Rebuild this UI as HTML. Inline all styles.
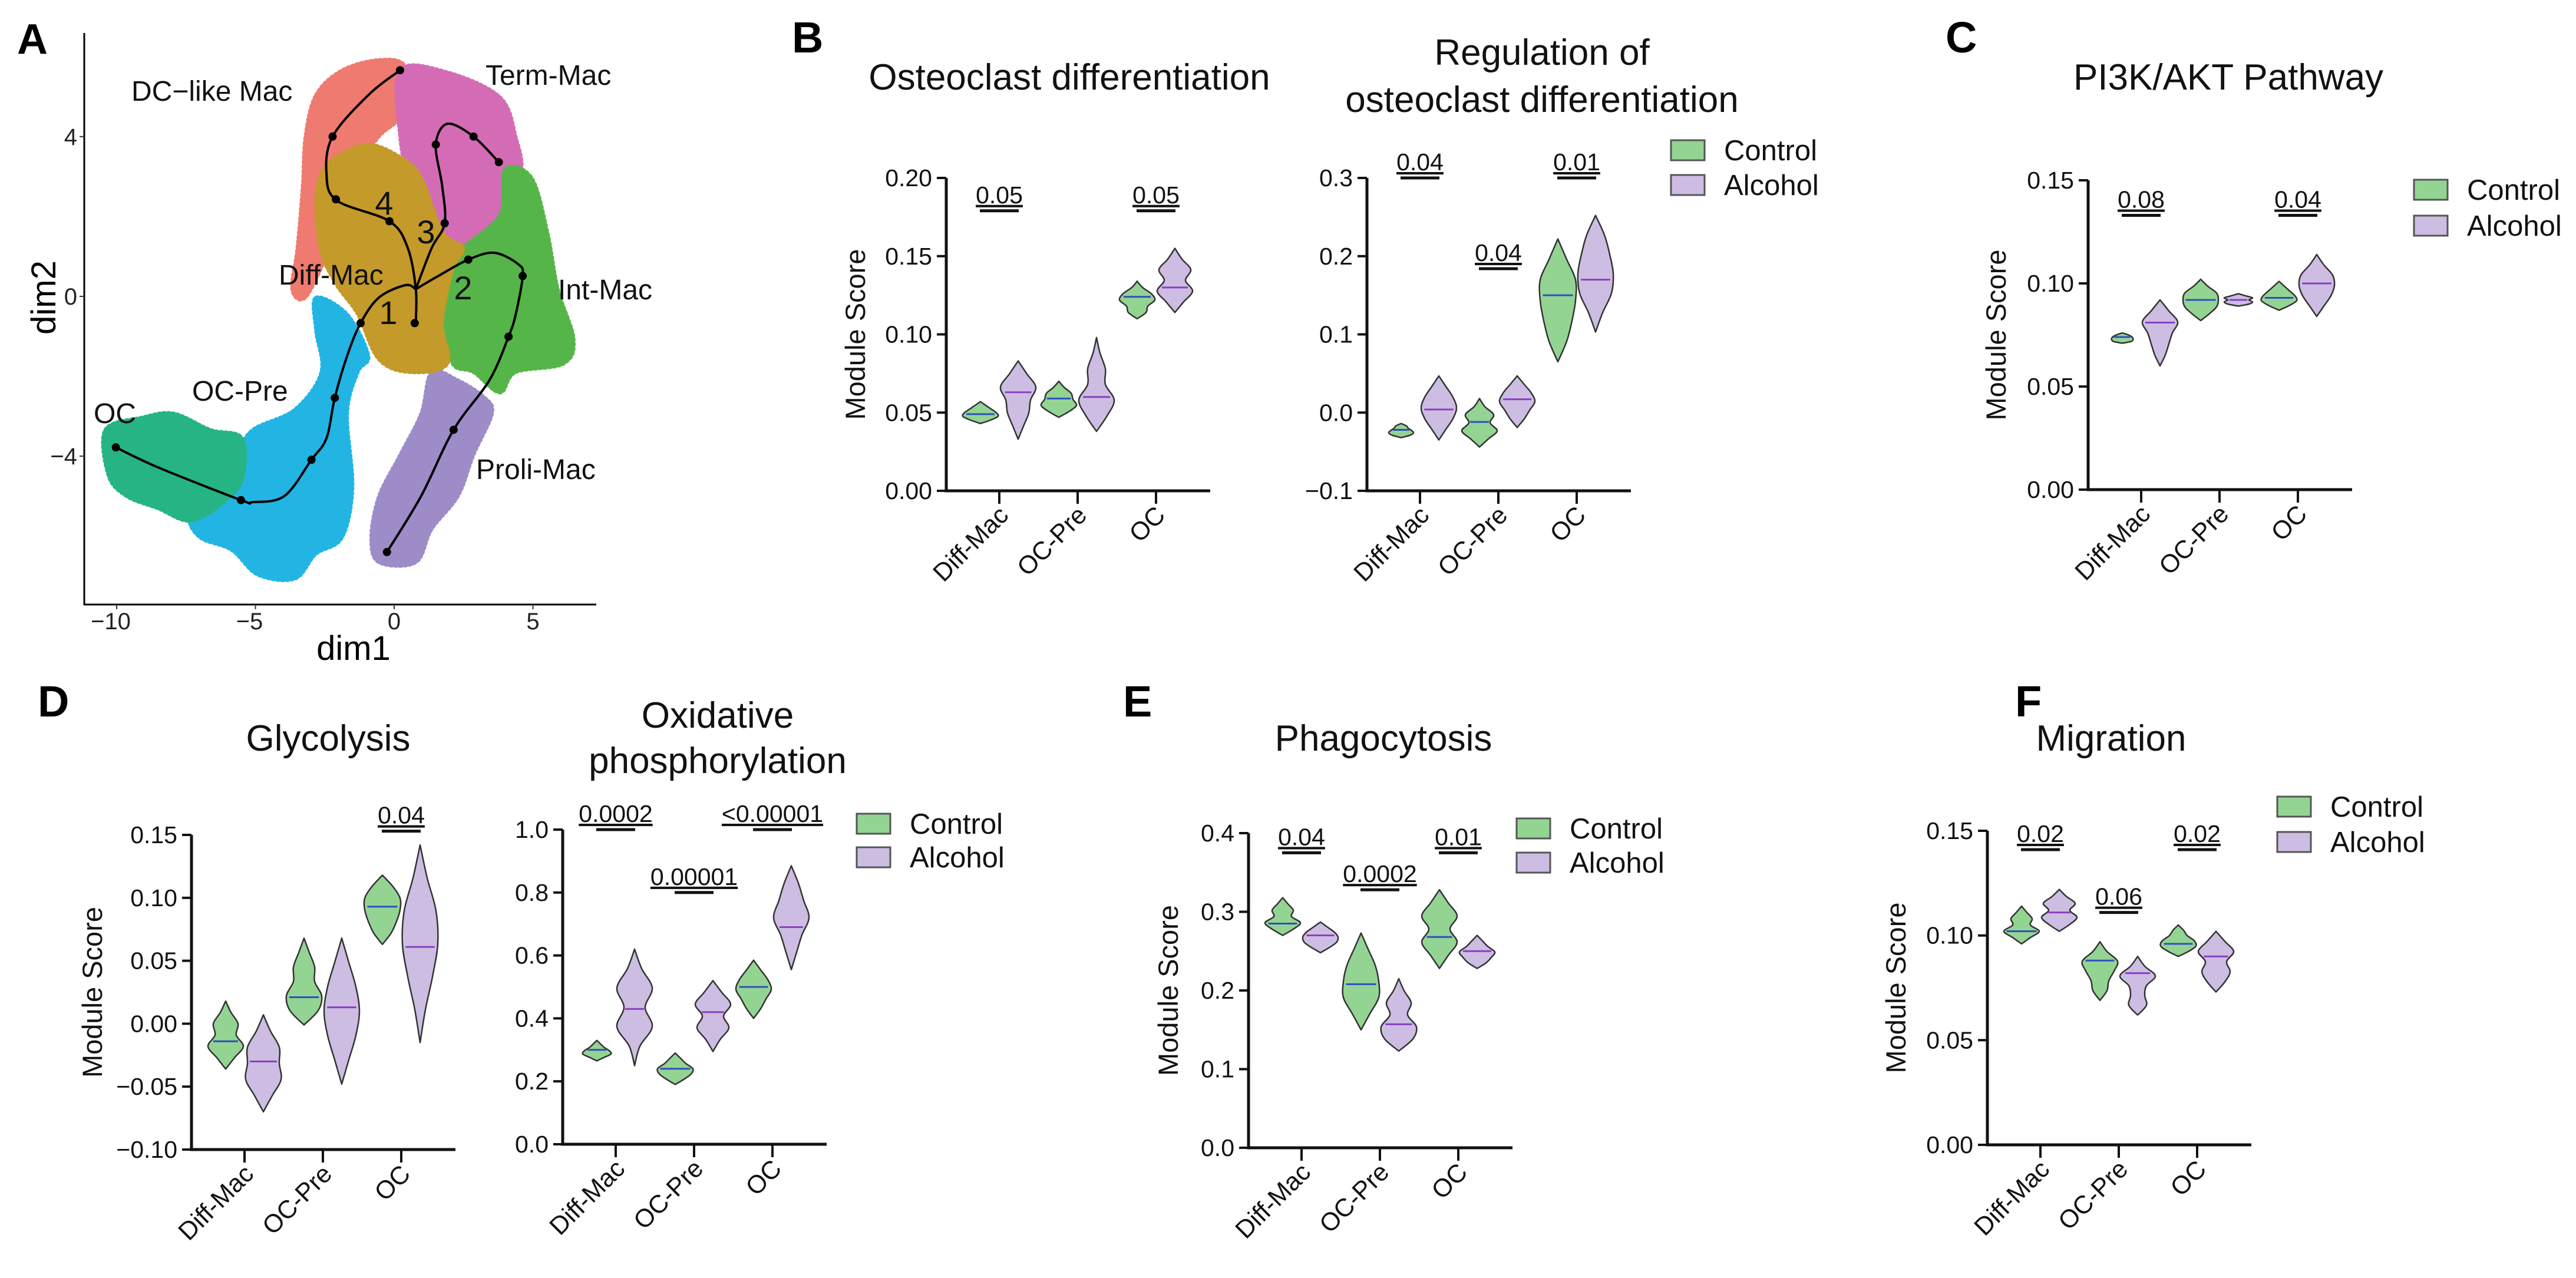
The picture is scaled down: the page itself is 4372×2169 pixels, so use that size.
<!DOCTYPE html>
<html><head><meta charset="utf-8"><title>Module score figure</title>
<style>
html,body{margin:0;padding:0;background:#fff;}
svg{display:block;font-family:"Liberation Sans",Arial,sans-serif;}
</style></head>
<body>
<svg id="fig" width="4372" height="2169" viewBox="0 0 4372 2169" xmlns="http://www.w3.org/2000/svg">
<g id="panelA"></g>
<g id="violins"></g>
</svg>
<script>
// ---------------- Panel A data (dim units) ----------------
const umapXTicks = [-10, -5, 0, 5];
const umapYTicks = [-4, 0, 4];
const clusterNames = ["OC-Pre","OC","Proli-Mac","DC-like","Term-Mac","Int-Mac","Diff-Mac"];
const clusterColors = ["#22B5E4","#27B485","#9E8CC9","#EF7A70","#D46CB5","#55B548","#C49A2A"];
const clusterOCPre = [[-2.82,-0.03],[-1.69,-0.45],[-0.93,-1.48],[-1.31,-1.9],[-1.69,-2.93],[-1.5,-4.79],[-1.88,-6.04],[-2.82,-6.45],[-3.58,-7.07],[-4.91,-6.97],[-5.86,-6.35],[-6.99,-6.04],[-7.37,-5.52],[-6.62,-5.0],[-5.67,-3.97],[-5.1,-3.34],[-3.58,-2.83],[-2.63,-1.9],[-2.82,-0.86]];
const clusterOC = [[-10.41,-3.34],[-9.08,-3.03],[-7.94,-2.93],[-6.62,-3.34],[-5.48,-3.55],[-5.48,-4.59],[-6.24,-5.21],[-7.37,-5.62],[-8.51,-5.31],[-9.65,-5.0],[-10.3,-4.48]];
const clusterProli = [[1.35,-1.9],[2.3,-2.1],[3.24,-2.52],[3.53,-2.93],[2.86,-3.97],[2.3,-5.0],[1.35,-5.83],[0.78,-6.66],[-0.55,-6.66],[-0.83,-6.04],[-0.55,-5.0],[0.21,-3.97],[0.97,-2.93]];
const clusterDC = [[-2.82,5.04],[-1.88,5.66],[-0.55,5.92],[0.4,5.76],[0.59,4.73],[-0.55,4.0],[-1.12,3.28],[-0.93,2.45],[-2.07,1.62],[-2.44,1.0],[-3.2,-0.03],[-3.68,0.18],[-3.49,1.21],[-3.3,2.76],[-3.2,4.0]];
const clusterTerm = [[0.21,5.66],[1.92,5.61],[3.81,4.99],[4.38,4.0],[4.57,3.07],[3.81,2.04],[2.48,1.21],[1.73,1.0],[1.35,1.62],[0.59,2.76],[0.21,4.0]];
const clusterInt = [[4.0,3.18],[4.95,2.97],[5.52,1.62],[5.9,0.18],[6.47,-1.07],[6.09,-1.69],[4.38,-1.9],[3.81,-2.41],[2.86,-1.9],[2.11,-1.69],[1.82,-0.65],[2.11,0.69],[2.48,1.21],[3.81,2.04]];
const clusterDiff = [[-2.07,3.49],[-0.93,3.8],[0.21,3.49],[0.97,2.97],[1.73,1.62],[2.48,1.21],[2.11,0.69],[1.73,-0.65],[1.92,-1.69],[0.59,-1.9],[-0.55,-1.58],[-1.31,-0.45],[-2.07,0.28],[-2.63,1.11],[-2.82,2.25],[-2.63,3.07]];
const trajDC = [[0.78,-0.65],[0.78,0.18],[0.49,1.21],[-0.17,1.88],[-2.07,2.4],[-2.44,3.07],[-2.22,4.0],[-0.93,5.04],[0.21,5.66]];
const trajTerm = [[0.78,0.18],[1.35,1.21],[1.82,1.83],[1.73,2.76],[1.5,3.8],[1.92,4.32],[2.86,4.0],[3.77,3.36]];
const trajProli = [[0.78,0.18],[1.54,0.49],[2.67,0.92],[3.62,1.09],[4.48,0.8],[4.63,0.51],[4.38,-0.45],[4.12,-1.01],[3.43,-2.1],[2.14,-3.34],[0.97,-5.0],[-0.26,-6.4]];
const trajOC = [[0.78,0.18],[0.4,0.28],[-0.55,-0.03],[-1.21,-0.67],[-1.69,-1.48],[-2.14,-2.54],[-2.44,-3.55],[-2.98,-4.09],[-3.96,-5.0],[-5.1,-5.15],[-5.52,-5.1],[-8.51,-4.28],[-10.03,-3.78]];
const trajNodes = [[0.21,5.66],[-2.22,4.0],[-2.1,2.43],[-0.17,1.88],[1.82,1.83],[1.5,3.8],[2.86,4.0],[3.77,3.36],[0.74,-0.67],[2.67,0.92],[4.63,0.51],[4.12,-1.01],[2.14,-3.34],[-0.26,-6.4],[-1.21,-0.67],[-2.14,-2.54],[-2.98,-4.09],[-5.52,-5.1],[-10.03,-3.78]];

// ---------------- Violin data ----------------
const categories = ["Diff-Mac","OC-Pre","OC"];
// [lo, median, hi] per category
const b1Ctrl = [[0.043,0.049,0.057],[0.047,0.059,0.070],[0.110,0.124,0.134]];
const b1Alc  = [[0.033,0.063,0.083],[0.038,0.060,0.098],[0.114,0.130,0.155]];
const b1CtrlShape = [[0.6,1,0.9,0.6,0.3],[0.6,1,0.8,0.7,0.3],[0.5,0.6,1,0.8,0.3]];
const b1AlcShape  = [[0.3,0.6,0.7,1,0.5],[0.6,1,0.5,0.5,0.2],[0.5,1,0.6,0.9,0.4]];
const b1TickLabels = ["0.00","0.05","0.10","0.15","0.20"];
const b1PCats = [0,2]; const b1PLevels = [0.179,0.179]; const b1PText = ["0.05","0.05"];

const b2Ctrl = [[-0.032,-0.022,-0.014],[-0.044,-0.012,0.018],[0.065,0.150,0.222]];
const b2Alc  = [[-0.035,0.004,0.047],[-0.019,0.017,0.047],[0.103,0.170,0.252]];
const b2CtrlShape = [[0.5,0.7,0.6,0.4,0.3],[0.5,1,0.6,0.8,0.3],[0.5,0.8,1,1,0.5]];
const b2AlcShape  = [[0.4,0.8,1,0.8,0.4],[0.4,0.7,1,0.8,0.4],[0.4,0.9,1,0.8,0.5]];
const b2TickLabels = ["\u22120.1","0.0","0.1","0.2","0.3"];
const b2PCats = [0,1,2]; const b2PLevels = [0.30,0.184,0.30]; const b2PText = ["0.04","0.04","0.01"];

const cCtrl = [[0.071,0.074,0.076],[0.082,0.092,0.102],[0.087,0.093,0.101]];
const cAlc  = [[0.060,0.081,0.092],[0.089,0.092,0.095],[0.084,0.100,0.114]];
const cCtrlShape = [[0.5,0.6,0.6,0.5,0.3],[0.5,0.9,1,0.9,0.4],[0.6,1,0.9,0.6,0.3]];
const cAlcShape  = [[0.3,0.5,0.7,1,0.5],[0.6,0.8,0.6,0.8,0.4],[0.4,0.8,1,0.9,0.4]];
const cTickLabels = ["0.00","0.05","0.10","0.15"];
const cPCats = [0,2]; const cPLevels = [0.133,0.133]; const cPText = ["0.08","0.04"];

const d1Ctrl = [[-0.036,-0.014,0.018],[-0.001,0.021,0.068],[0.063,0.093,0.118]];
const d1Alc  = [[-0.070,-0.030,0.007],[-0.048,0.013,0.068],[-0.015,0.061,0.142]];
const d1CtrlShape = [[0.5,1,0.6,0.7,0.3],[0.8,1,0.6,0.6,0.3],[0.5,0.8,1,1,0.6]];
const d1AlcShape  = [[0.5,1,0.9,0.9,0.4],[0.4,0.8,1,0.8,0.4],[0.3,0.7,1,0.9,0.4]];
const d1TickLabels = ["\u22120.10","\u22120.05","0.00","0.05","0.10","0.15"];
const d1PCats = [2]; const d1PLevels = [0.153]; const d1PText = ["0.04"];

const d2Ctrl = [[0.265,0.30,0.33],[0.19,0.24,0.29],[0.40,0.50,0.585]];
const d2Alc  = [[0.25,0.43,0.62],[0.295,0.42,0.52],[0.555,0.69,0.885]];
const d2CtrlShape = [[0.4,0.8,0.7,0.4,0.2],[0.5,0.9,1,0.6,0.3],[0.4,0.7,1,0.8,0.4]];
const d2AlcShape  = [[0.3,1,0.6,1,0.4],[0.4,0.9,0.6,1,0.5],[0.3,0.6,1,0.7,0.4]];
const d2TickLabels = ["0.0","0.2","0.4","0.6","0.8","1.0"];
const d2PCats = [0,1,2]; const d2PLevels = [1.0,0.80,1.0]; const d2PText = ["0.0002","0.00001","<0.00001"];

const eCtrl = [[0.27,0.285,0.318],[0.15,0.208,0.273],[0.228,0.268,0.328]];
const eAlc  = [[0.248,0.27,0.287],[0.123,0.157,0.215],[0.228,0.25,0.27]];
const eCtrlShape = [[0.6,1,0.5,0.6,0.3],[0.5,1,1,0.8,0.4],[0.5,1,0.6,1,0.5]];
const eAlcShape  = [[0.5,0.9,1,0.8,0.4],[0.8,1,0.5,0.7,0.3],[0.5,0.8,1,0.6,0.3]];
const eTickLabels = ["0.0","0.1","0.2","0.3","0.4"];
const ePCats = [0,1,2]; const ePLevels = [0.375,0.328,0.375]; const ePText = ["0.04","0.0002","0.01"];

const fCtrl = [[0.096,0.102,0.114],[0.069,0.088,0.097],[0.090,0.096,0.105]];
const fAlc  = [[0.102,0.111,0.122],[0.062,0.082,0.090],[0.073,0.090,0.102]];
const fCtrlShape = [[0.5,1,0.5,0.6,0.3],[0.4,0.5,0.8,1,0.4],[0.6,1,0.9,0.5,0.3]];
const fAlcShape  = [[0.6,1,0.6,0.9,0.4],[0.5,0.4,0.5,1,0.4],[0.5,0.8,0.6,1,0.5]];
const fTickLabels = ["0.00","0.05","0.10","0.15"];
const fPCats = [0,1,2]; const fPLevels = [0.141,0.111,0.141]; const fPText = ["0.02","0.06","0.02"];

// ---------------- helpers ----------------
const NS = "http://www.w3.org/2000/svg";
function mk(tag, attrs, parent){ const e=document.createElementNS(NS,tag); for(const k in attrs) e.setAttribute(k,attrs[k]); if(parent) parent.appendChild(e); return e; }
function txt(str, attrs, parent){ const t=mk("text",attrs,parent); t.textContent=str; return t; }
function crPath(pts, closed){
  const n=pts.length; if(n<2) return "";
  let d="M"+pts[0][0].toFixed(1)+","+pts[0][1].toFixed(1);
  const g=i=> closed ? pts[(i+n)%n] : pts[Math.max(0,Math.min(n-1,i))];
  const segs = closed ? n : n-1;
  for(let i=0;i<segs;i++){
    const p0=g(i-1),p1=g(i),p2=g(i+1),p3=g(i+2);
    const c1=[p1[0]+(p2[0]-p0[0])/6, p1[1]+(p2[1]-p0[1])/6];
    const c2=[p2[0]-(p3[0]-p1[0])/6, p2[1]-(p3[1]-p1[1])/6];
    d+="C"+c1[0].toFixed(1)+","+c1[1].toFixed(1)+" "+c2[0].toFixed(1)+","+c2[1].toFixed(1)+" "+p2[0].toFixed(1)+","+p2[1].toFixed(1);
  }
  return d+(closed?"Z":"");
}

// ---------------- Panel A ----------------
(function(){
  const g=document.getElementById("panelA");
  const ax={left:143,bottom:1026,top:56,right:1012};
  const sx=v=>669+47.1*v, sy=v=>503-67.8*v;
  const letter=txt("A",{x:29,y:91,"font-size":72,"font-weight":"bold"},g);
  
  
  const clusters=[clusterOCPre,clusterOC,clusterProli,clusterDC,clusterTerm,clusterInt,clusterDiff];
  clusters.forEach((c,i)=>{
    const p=mk("path",{d:crPath(c.map(q=>[sx(q[0]),sy(q[1])]),true),fill:clusterColors[i],stroke:clusterColors[i],"stroke-width":6,"stroke-dasharray":"3 5","stroke-linecap":"round"},g);
    
    
  });
  [trajDC,trajTerm,trajProli,trajOC].forEach((t,i)=>{
    const p=mk("path",{d:crPath(t.map(q=>[sx(q[0]),sy(q[1])]),false),fill:"none",stroke:"#000","stroke-width":4},g);
    
    
  });
  trajNodes.forEach(q=>{
    const c=mk("circle",{cx:sx(q[0]),cy:sy(q[1]),r:7,fill:"#000"},g);
    
    
  });
  const axes=mk("path",{d:`M${ax.left},${ax.top}V${ax.bottom}H${ax.right}`,fill:"none",stroke:"#000","stroke-width":3},g);
  
  
  umapXTicks.forEach(v=>{
    mk("line",{x1:sx(v),x2:sx(v),y1:ax.bottom,y2:ax.bottom+8,stroke:"#333","stroke-width":2},g);
    const t=txt(v<0?"\u2212"+(-v):String(v),{x:sx(v)-(v<0?10:0),y:1068,"font-size":40,"text-anchor":"middle",fill:"#222"},g);
    
    
  });
  umapYTicks.forEach(v=>{
    mk("line",{x1:ax.left-8,x2:ax.left,y1:sy(v),y2:sy(v),stroke:"#333","stroke-width":2},g);
    const t=txt(v<0?"\u2212"+(-v):String(v),{x:ax.left-12,y:sy(v)+14,"font-size":40,"text-anchor":"end",fill:"#222"},g);
    
    
  });
  const xt=txt("dim1",{x:600,y:1120,"font-size":58,"text-anchor":"middle"},g);
  
  
  const yt=txt("dim2",{x:0,y:0,"font-size":58,"text-anchor":"middle",transform:"translate(94,505) rotate(-90)"},g);
  
  
  const labels=[["DC\u2212like Mac",223,171],["Term-Mac",824,144],["Diff-Mac",473,483],["Int-Mac",947,508],["OC-Pre",326,680],["OC",159,718],["Proli-Mac",808,813]];
  labels.forEach(l=>{
    const t=txt(l[0],{x:l[1],y:l[2],"font-size":48,fill:"#111"},g);
    
    
  });
  [["4",652,344],["3",723,393],["2",786,488],["1",659,530]].forEach(l=>{
    const t=txt(l[0],{x:l[1],y:l[2]+20,"font-size":56,"text-anchor":"middle",fill:"#111"},g);
    
    
  });
})();

// ---------------- Violin panels ----------------
const panels = [
  {id:"b1",ctrl:b1Ctrl,alc:b1Alc,cs:b1CtrlShape,as:b1AlcShape,ticks:b1TickLabels,pc:b1PCats,pl:b1PLevels,pt:b1PText,
   ax:1606,top:302,bot:833,ytitle:1452,title:["Osteoclast differentiation"],tx:1815,ty:[152],letter:["B",1344,89],legend:null},
  {id:"b2",ctrl:b2Ctrl,alc:b2Alc,cs:b2CtrlShape,as:b2AlcShape,ticks:b2TickLabels,pc:b2PCats,pl:b2PLevels,pt:b2PText,
   ax:2320,top:302,bot:833,ytitle:null,title:["Regulation of","osteoclast differentiation"],tx:2617,ty:[110,190],letter:null,legend:[2836,255,314]},
  {id:"c",ctrl:cCtrl,alc:cAlc,cs:cCtrlShape,as:cAlcShape,ticks:cTickLabels,pc:cPCats,pl:cPLevels,pt:cPText,
   ax:3544,top:306,bot:831,ytitle:3388,title:["PI3K/AKT Pathway"],tx:3782,ty:[152],letter:["C",3302,89],legend:[4097,322,383]},
  {id:"d1",ctrl:d1Ctrl,alc:d1Alc,cs:d1CtrlShape,as:d1AlcShape,ticks:d1TickLabels,pc:d1PCats,pl:d1PLevels,pt:d1PText,
   ax:325,top:1417,bot:1951,ytitle:157,title:["Glycolysis"],tx:557,ty:[1274],letter:["D",64,1216],legend:null},
  {id:"d2",ctrl:d2Ctrl,alc:d2Alc,cs:d2CtrlShape,as:d2AlcShape,ticks:d2TickLabels,pc:d2PCats,pl:d2PLevels,pt:d2PText,
   ax:955,top:1408,bot:1942,ytitle:null,title:["Oxidative","phosphorylation"],tx:1218,ty:[1235,1312],letter:null,legend:[1454,1398,1455]},
  {id:"e",ctrl:eCtrl,alc:eAlc,cs:eCtrlShape,as:eAlcShape,ticks:eTickLabels,pc:ePCats,pl:ePLevels,pt:ePText,
   ax:2119,top:1414,bot:1948,ytitle:1983,title:["Phagocytosis"],tx:2348,ty:[1274],letter:["E",1906,1216],legend:[2574,1406,1464]},
  {id:"f",ctrl:fCtrl,alc:fAlc,cs:fCtrlShape,as:fAlcShape,ticks:fTickLabels,pc:fPCats,pl:fPLevels,pt:fPText,
   ax:3373,top:1410,bot:1943,ytitle:3218,title:["Migration"],tx:3583,ty:[1274],letter:["F",3420,1216],legend:[3865,1369,1429]}
];

function drawViolin(g, cx, stats, shape, yS, fill, medColor, name){
  const lo=stats[0], med=stats[1], hi=stats[2], n=shape.length, W=30;
  const vals=[lo]; const ws=[0];
  for(let k=0;k<n;k++){ vals.push(lo+(hi-lo)*(k+1)/(n+1)); ws.push(shape[k]*W); }
  vals.push(hi); ws.push(0);
  const right=vals.map((v,i)=>[cx+ws[i],yS(v)]);
  const left=vals.map((v,i)=>[cx-ws[i],yS(v)]).reverse();
  const d=crPath(right,false)+crPath(left,false).replace(/^M[^C]*/,"L"+left[0][0].toFixed(1)+","+left[0][1].toFixed(1))+"Z";
  const p=mk("path",{d:d,fill:fill,stroke:"#333","stroke-width":2.5,"stroke-linejoin":"round"},g);
  
  
  let wm=0; for(let i=0;i<vals.length-1;i++){ if(med>=vals[i]&&med<=vals[i+1]){ const t=(med-vals[i])/(vals[i+1]-vals[i]); wm=ws[i]+(ws[i+1]-ws[i])*t; } }
  wm*=0.85;
  const m=mk("line",{x1:cx-wm,x2:cx+wm,y1:yS(med),y2:yS(med),stroke:medColor,"stroke-width":3},g);
  
  
}

const root=document.getElementById("violins");
panels.forEach(P=>{
  const g=mk("g",{},root);
  
  
  const tickVals=P.ticks.map(s=>parseFloat(s.replace("\u2212","-")));
  const vmin=tickVals[0], vmax=tickVals[tickVals.length-1];
  const yS=v=>P.bot-(v-vmin)/(vmax-vmin)*(P.bot-P.top);
  const xC=i=>P.ax+90+133*i;
  const xEnd=P.ax+448;
  if(P.letter){
    const L=txt(P.letter[0],{x:P.letter[1],y:P.letter[2],"font-size":74,"font-weight":"bold"},g);
    
    
  }
  P.title.forEach((s,i)=>{
    const t=txt(s,{x:P.tx,y:P.ty[i],"font-size":62,"text-anchor":"middle",fill:"#111"},g);
    
    
  });
  const a=mk("path",{d:`M${P.ax},${P.top}V${P.bot}H${xEnd}`,fill:"none",stroke:"#111","stroke-width":5},g);
  
  
  P.ticks.forEach((s,i)=>{
    const y=yS(tickVals[i]);
    mk("line",{x1:P.ax-16,x2:P.ax,y1:y,y2:y,stroke:"#111","stroke-width":4},g);
    const t=txt(s,{x:P.ax-24,y:y+14,"font-size":41,"text-anchor":"end",fill:"#111"},g);
    
    
  });
  categories.forEach((c,i)=>{
    const x=xC(i);
    mk("line",{x1:x,x2:x,y1:P.bot,y2:P.bot+22,stroke:"#111","stroke-width":4},g);
    const t=txt(c,{x:0,y:0,"font-size":43,"text-anchor":"end",fill:"#111",transform:`translate(${x+18},${P.bot+44}) rotate(-45)`},g);
    
    
  });
  if(P.ytitle!==null){
    const t=txt("Module Score",{x:0,y:0,"font-size":47,"text-anchor":"middle",fill:"#111",transform:`translate(${P.ytitle+16},${(P.top+P.bot)/2}) rotate(-90)`},g);
    
    
  }
  categories.forEach((c,i)=>{
    drawViolin(g,xC(i)-32,P.ctrl[i],P.cs[i],yS,"#93D493","#2F4FC0","violin-control-"+c.toLowerCase());
    drawViolin(g,xC(i)+32,P.alc[i],P.as[i],yS,"#CDBDE2","#8A3FC4","violin-alcohol-"+c.toLowerCase());
  });
  P.pc.forEach((ci,k)=>{
    const x=xC(ci), y=yS(P.pl[k]);
    const b=mk("line",{x1:x-33,x2:x+33,y1:y,y2:y,stroke:"#111","stroke-width":5},g);
    
    
    const t=txt(P.pt[k],{x:x,y:y-13,"font-size":41,"text-anchor":"middle",fill:"#111","text-decoration":"underline"},g);
    
    
  });
  if(P.legend){
    const [lx,r1,r2]=P.legend;
    [["Control","#93D493",r1],["Alcohol","#CDBDE2",r2]].forEach(e=>{
      const lg=mk("g",{},g);
      
      
      mk("rect",{x:lx,y:e[2]-17,width:57,height:34,fill:e[1],stroke:"#555","stroke-width":3},lg);
      txt(e[0],{x:lx+90,y:e[2]+17,"font-size":49,fill:"#111"},lg);
    });
  }
});
</script>
</body></html>
